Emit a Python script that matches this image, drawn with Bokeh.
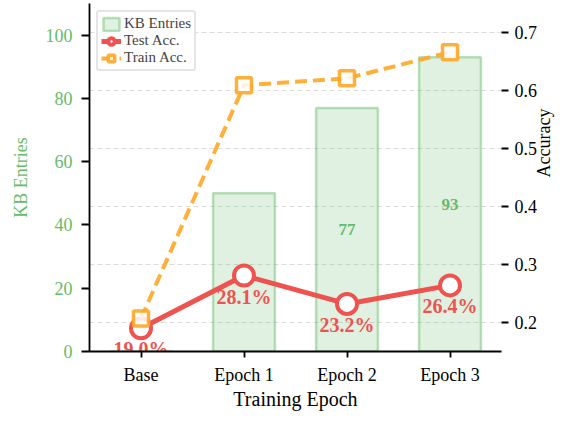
import math
from bokeh.plotting import figure
from bokeh.models import Range1d, LinearAxis, FixedTicker, Grid, ColumnDataSource
from bokeh.core.properties import value
from bokeh.embed import file_html
from bokeh.resources import INLINE

# ---- data ----
epochs = ["Base", "Epoch 1", "Epoch 2", "Epoch 3"]
kb_entries = [0, 50, 77, 93]
test_acc = [0.190, 0.281, 0.232, 0.264]
train_acc = [0.207, 0.609, 0.621, 0.666]
kb_ticks = [0, 20, 40, 60, 80, 100]
acc_ticks = [0.2, 0.3, 0.4, 0.5, 0.6, 0.7]

FONT = "Liberation Serif"
GREEN = "#66BB6A"
RED = "#EF5350"
ORANGE = "#FFA726"

p = figure(x_range=epochs, y_range=Range1d(0, 110),
           width=567, height=412, output_backend="svg", toolbar_location=None,
           min_border_left=89, min_border_right=64, min_border_top=3, min_border_bottom=60)
p.extra_y_ranges = {"acc": Range1d(0.15, 0.75)}
p.outline_line_color = None
p.xgrid.visible = False
p.ygrid.visible = False
p.background_fill_color = "white"

# grid tied to accuracy axis
grid = Grid(dimension=1, ticker=FixedTicker(ticks=acc_ticks), y_range_name="acc",
            grid_line_color="#dddddd", grid_line_dash="5 3", grid_line_width=1)
p.add_layout(grid, "center")

# left axis
la = p.yaxis[0]
la.ticker = FixedTicker(ticks=kb_ticks)
la.axis_label = "KB Entries"
la.axis_label_text_color = GREEN
la.axis_label_text_font = FONT
la.axis_label_text_font_size = "18px"
la.axis_label_text_font_style = "normal"
la.axis_label_standoff = 12
la.major_label_text_color = GREEN
la.major_label_text_font = FONT
la.major_label_text_font_size = "18px"
la.major_label_standoff = 9
la.axis_line_width = 1.8
la.axis_line_color = "black"
la.major_tick_line_width = 1.8
la.major_tick_out = 8
la.major_tick_in = 0
la.minor_tick_line_color = None

# bottom axis
ba = p.xaxis[0]
ba.axis_label = "Training Epoch"
ba.axis_label_text_font = FONT
ba.axis_label_text_font_size = "20px"
ba.axis_label_text_font_style = "normal"
ba.axis_label_text_color = "black"
ba.axis_label_standoff = 0
ba.major_label_text_font = FONT
ba.major_label_text_font_size = "18px"
ba.major_label_text_color = "black"
ba.major_label_standoff = 7
ba.axis_line_width = 1.8
ba.major_tick_line_width = 1.8
ba.major_tick_out = 6
ba.major_tick_in = 0

# right axis
ra = LinearAxis(y_range_name="acc", ticker=FixedTicker(ticks=acc_ticks), axis_label="Accuracy")
ra.axis_line_color = None
ra.major_tick_out = 7
ra.major_tick_in = 0
ra.major_tick_line_width = 1.8
ra.minor_tick_line_color = None
ra.major_label_text_font = FONT
ra.major_label_text_font_size = "18px"
ra.major_label_text_color = "black"
ra.major_label_standoff = 6
ra.axis_label_text_font = FONT
ra.axis_label_text_font_size = "18px"
ra.axis_label_text_font_style = "normal"
ra.axis_label_text_color = "black"
ra.axis_label_standoff = 4
try:
    ra.axis_label_orientation = math.pi / 2
except Exception:
    pass
p.add_layout(ra, "right")

# bars
bar_src = ColumnDataSource(dict(x=epochs, top=kb_entries))
p.vbar(x="x", top="top", width=0.6, source=bar_src, fill_color=GREEN, fill_alpha=0.2,
       line_color=GREEN, line_alpha=0.45, line_width=2.5, legend_label="KB Entries")

lab_x = [e for e, v in zip(epochs, kb_entries) if v > 0]
lab_v = [v for v in kb_entries if v > 0]
lab_src = ColumnDataSource(dict(x=lab_x, y=[v / 2 for v in lab_v], t=[str(v) for v in lab_v]))
p.text(x="x", y="y", text="t", source=lab_src, text_align="center", text_baseline="middle",
       text_color=GREEN, text_font=value(FONT), text_font_size="17px", text_font_style="bold")

# test accuracy
test_src = ColumnDataSource(dict(x=epochs, y=test_acc, t=[f"{v*100:.1f}%" for v in test_acc]))
p.line(x="x", y="y", source=test_src, y_range_name="acc", line_color=RED, line_width=5,
       legend_label="Test Acc.")
p.scatter(x="x", y="y", source=test_src, y_range_name="acc", marker="circle", size=20,
          fill_color="white", line_color=RED, line_width=4, legend_label="Test Acc.")

# train accuracy
train_src = ColumnDataSource(dict(x=epochs, y=train_acc))
p.line(x="x", y="y", source=train_src, y_range_name="acc", line_color=ORANGE, line_width=4,
       line_dash="12 6", line_alpha=0.9, legend_label="Train Acc.")
p.scatter(x="x", y="y", source=train_src, y_range_name="acc", marker="square", size=15,
          fill_color="white", fill_alpha=0.85, line_color=ORANGE, line_width=3.5, line_alpha=0.9,
          legend_label="Train Acc.")

# test labels
p.text(x="x", y="y", text="t", source=test_src, y_range_name="acc", y_offset=21,
       text_align="center", text_baseline="middle", text_color=RED,
       text_font=value(FONT), text_font_size="20px", text_font_style="bold")

# legend
lg = p.legend[0]
lg.location = "top_left"
lg.margin = 7
lg.padding = 3
lg.spacing = 0
lg.label_text_font = FONT
lg.label_text_font_size = "15px"
lg.label_height = 16
lg.glyph_height = 16
lg.glyph_width = 20
lg.label_standoff = 3
lg.border_line_color = "#cccccc"
lg.border_line_width = 2
lg.border_radius = 3
lg.background_fill_alpha = 0.85

open("out.html", "w").write(file_html(p, INLINE))
